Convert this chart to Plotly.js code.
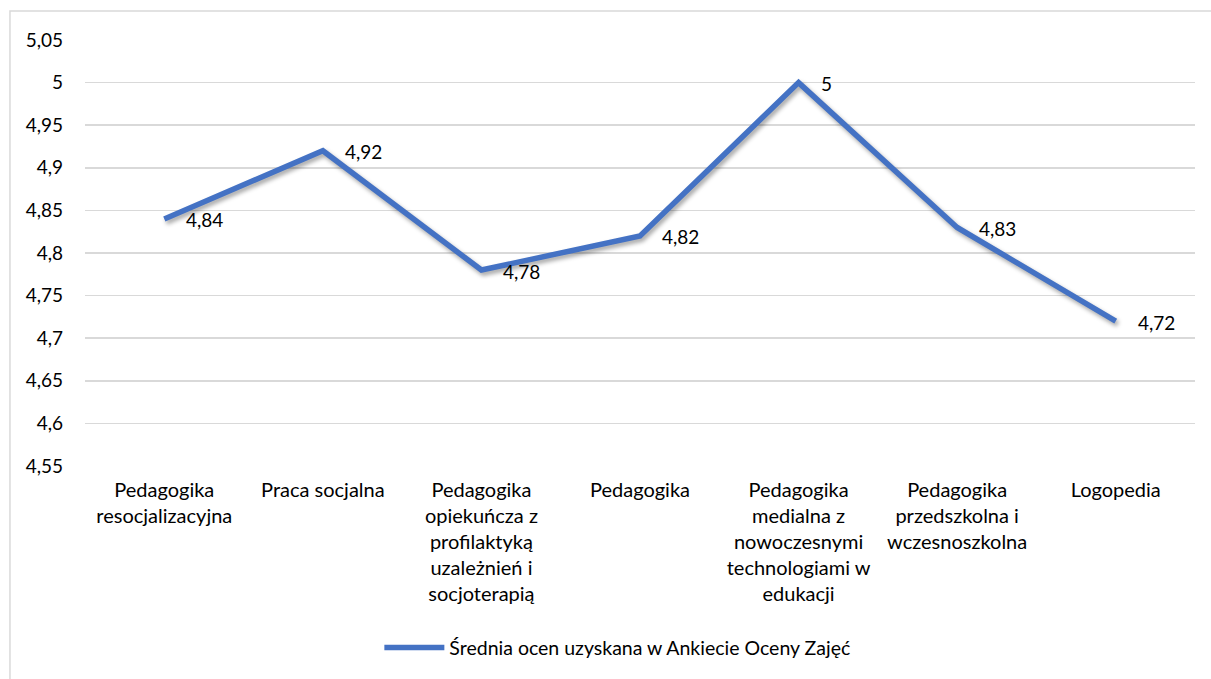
<!DOCTYPE html>
<html><head><meta charset="utf-8">
<script src="https://cdn.plot.ly/plotly-3.0.1.min.js"></script>
<style>
html,body{margin:0;padding:0;background:#fff;}
#chart .scatterlayer .js-line{filter:drop-shadow(2px 3px 2px rgba(0,0,0,0.35));}
</style>
</head><body>
<div id="chart" style="width:1211px;height:679px;"></div>
<script>
const categories = [
  "Pedagogika<br>resocjalizacyjna",
  "Praca socjalna",
  "Pedagogika<br>opiekuńcza z<br>profilaktyką<br>uzależnień i<br>socjoterapią",
  "Pedagogika",
  "Pedagogika<br>medialna z<br>nowoczesnymi<br>technologiami w<br>edukacji",
  "Pedagogika<br>przedszkolna i<br>wczesnoszkolna",
  "Logopedia"
];
const values = [4.84, 4.92, 4.78, 4.82, 5.00, 4.83, 4.72];
const valueLabels = ["4,84", "4,92", "4,78", "4,82", "5", "4,83", "4,72"];
const seriesName = "Średnia ocen uzyskana w Ankiecie Oceny Zajęć";
const yTickVals = [4.55, 4.6, 4.65, 4.7, 4.75, 4.8, 4.85, 4.9, 4.95, 5.0, 5.05];
const yTickText = ["4,55", "4,6", "4,65", "4,7", "4,75", "4,8", "4,85", "4,9", "4,95", "5", "5,05"];

const fam = "Lato, 'Open Sans', sans-serif";
const font = {family: fam, size: 19, color: "#000"};
const xFont = {family: fam, size: 20, color: "#000"};
const legFont = {family: fam, size: 19.5, color: "#000"};

const trace = {
  x: categories,
  y: values,
  type: "scatter",
  mode: "lines",
  name: seriesName,
  line: {color: "#4472C4", width: 5.5},
  cliponaxis: false,
  hoverinfo: "skip"
};

const annotations = categories.map((c, i) => ({
  x: c, y: values[i], xref: "x", yref: "y",
  text: valueLabels[i], showarrow: false,
  xanchor: "left", yanchor: "middle", xshift: 20, yshift: -1,
  font: font
}));

const layout = {
  width: 1211, height: 679,
  margin: {l: 85, r: 16, t: 40, b: 213},
  paper_bgcolor: "#fff",
  plot_bgcolor: "#fff",
  font: font,
  showlegend: true,
  legend: {orientation: "h", x: 0.4796, xanchor: "center", y: -0.427, yanchor: "middle", font: legFont, itemwidth: 60},
  xaxis: {
    type: "category",
    showgrid: false, zeroline: false, showline: false,
    ticks: "", tickfont: xFont, range: [-0.5, 6.5], fixedrange: true,
    ticklabelstandoff: 10
  },
  yaxis: {
    range: [4.55, 5.05],
    tickvals: yTickVals, ticktext: yTickText,
    showgrid: true, gridcolor: "#d9d9d9", gridwidth: 1.5,
    zeroline: false, showline: false, ticks: "",
    tickfont: font, ticklabelstandoff: 21, fixedrange: true
  },
  annotations: annotations,
  shapes: [{
    type: "rect", xref: "paper", yref: "paper",
    x0: -0.0676, x1: 1.1, y0: -0.7, y1: 1.068,
    line: {color: "#d9d9d9", width: 1.5}, fillcolor: "rgba(0,0,0,0)", layer: "below"
  }]
};

Plotly.newPlot("chart", [trace], layout, {displayModeBar: false, staticPlot: true});
</script>
</body></html>
